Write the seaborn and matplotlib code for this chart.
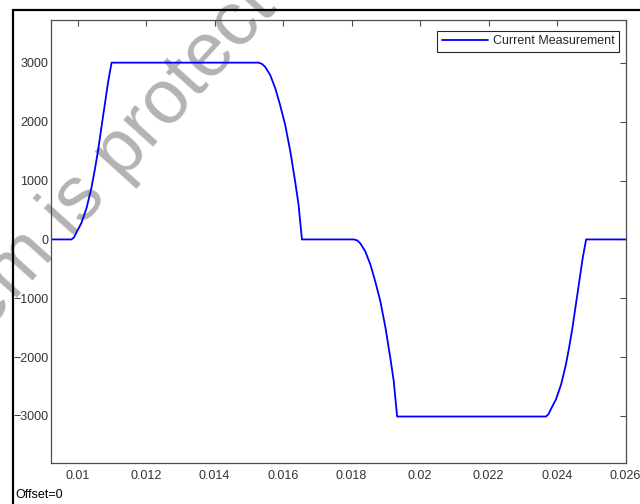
# Current measurement scope trace (recreated with seaborn)
import numpy as np
import pandas as pd
import matplotlib
matplotlib.use("Agg")
import matplotlib.pyplot as plt
from matplotlib.lines import Line2D
import seaborn as sns

# --- data ------------------------------------------------------------
time_s = [
    0.00921, 0.00982, 0.00989, 0.00996, 0.01011, 0.01026, 0.01040, 0.01050,
    0.01059, 0.01069, 0.01079, 0.01089, 0.01099,
    0.01528, 0.01538, 0.01547, 0.01562, 0.01577, 0.01591, 0.01606, 0.01621,
    0.01635, 0.01645, 0.01655,
    0.01806, 0.01816, 0.01825, 0.01840, 0.01855, 0.01869, 0.01884, 0.01899,
    0.01913, 0.01923, 0.01933,
    0.02368, 0.02375, 0.02382, 0.02397, 0.02412, 0.02426, 0.02436, 0.02445,
    0.02455, 0.02465, 0.02475, 0.02485,
    0.02600,
]
current = [
    0, 0, 35, 114, 283, 537, 876, 1186, 1497, 1893, 2288, 2684, 3005,
    3005, 2985, 2937, 2797, 2571, 2288, 1949, 1497, 989, 593, 0,
    0, -15, -63, -203, -429, -712, -1051, -1503, -2011, -2407, -3010,
    -3010, -2970, -2886, -2717, -2463, -2124, -1814, -1503, -1107, -712, -316, 0,
    0,
]
series_name = "Current Measurement"

x_ticks = [0.010, 0.012, 0.014, 0.016, 0.018, 0.020, 0.022, 0.024, 0.026]
x_ticklabels = ["0.01", "0.012", "0.014", "0.016", "0.018", "0.02", "0.022", "0.024", "0.026"]
y_ticks = [-3000, -2000, -1000, 0, 1000, 2000, 3000]

df = pd.DataFrame({"t": time_s, "I": current, "signal": series_name})

# --- style ------------------------------------------------------------
sns.set_theme(style="white")
plt.rcParams["font.family"] = ["Liberation Sans", "DejaVu Sans"]
plt.rcParams["font.size"] = 9

fig = plt.figure(figsize=(6.4, 5.04), dpi=100)
ax = fig.add_axes([51 / 640, 1 - 463 / 504, 574.5 / 640, 443 / 504])
ax.set_facecolor("none")

sns.lineplot(data=df, x="t", y="I", hue="signal", palette=["#0000ff"],
             linewidth=1.3, ax=ax, estimator=None, sort=False)

ax.set_xlim(0.00922, 0.026)
ax.set_ylim(-3800, 3730)
ax.set_xticks(x_ticks)
ax.set_xticklabels(x_ticklabels)
ax.set_yticks(y_ticks)
ax.set_xlabel("")
ax.set_ylabel("")

for s in ax.spines.values():
    s.set_color("#4d4d4d")
    s.set_linewidth(0.9)
ax.tick_params(direction="in", length=4, width=0.8, color="#4d4d4d",
               top=True, right=True, labelsize=9, labelcolor="#333333")
ax.tick_params(axis="x", pad=5)
ax.tick_params(axis="y", pad=2)

leg = ax.legend(loc="upper right", bbox_to_anchor=(0.9887, 0.9752),
                borderaxespad=0, fancybox=False, framealpha=1,
                edgecolor="#262626", handlelength=3.7, handletextpad=0.4,
                borderpad=0.35, fontsize=9)
leg.get_frame().set_linewidth(0.8)
for h in leg.get_lines():
    h.set_linewidth(1.3)

# outer scope frame
fig.add_artist(Line2D([12.5 / 640, 12.5 / 640], [0, 1 - 10 / 504],
                      color="black", lw=1.6, transform=fig.transFigure))
fig.add_artist(Line2D([12.5 / 640, 1], [1 - 10 / 504, 1 - 10 / 504],
                      color="black", lw=1.6, transform=fig.transFigure))

fig.text(15 / 640, 9 / 504, "Offset=0", fontsize=9, color="black",
         ha="left", va="center")

# watermark across the picture
fig.text(-40 / 640, 1 - 361 / 504, "item is protected by", fontsize=55,
         color="#b3b3b3", rotation=48, rotation_mode="anchor",
         ha="left", va="baseline", zorder=-1)

fig.savefig("out.png", dpi=100)
